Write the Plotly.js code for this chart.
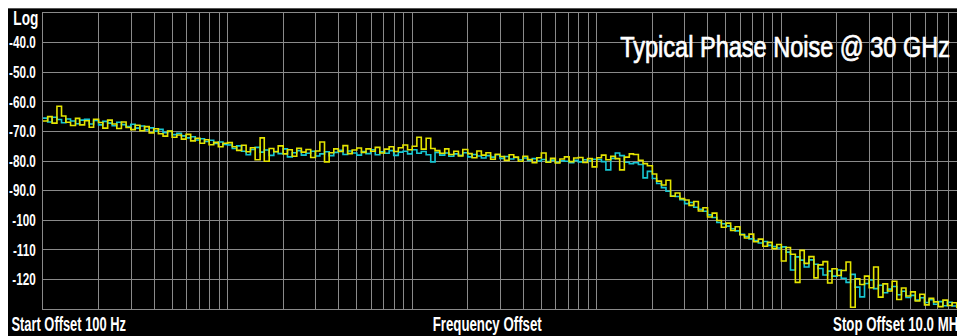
<!DOCTYPE html>
<html>
<head>
<meta charset="utf-8">
<script src="https://cdn.plot.ly/plotly-3.0.1.min.js"></script>
<style>
html,body{margin:0;padding:0;background:#fff;overflow:hidden;width:957px;height:336px;}
#frame{position:absolute;left:8px;top:8px;width:980px;height:328px;background:#000;border-top:1px solid #555;}
#chart{width:980px;height:327px;}
</style>
</head>
<body>
<div id="frame"><div id="chart"></div></div>
<script>
const freqHz = [
100,106,112,119,126,133,141,150,158,168,178,188,200,211,224,237,251,266,282,299,316,335,355,376,398,422,447,473,501,531,562,596,631,668,708,750,794,841,891,944,
1000,1060,1120,1190,1260,1330,1410,1500,1580,1680,1780,1880,2000,2110,2240,2370,2510,2660,2820,2990,3160,3350,3550,3760,3980,4220,4470,4730,5010,5310,5620,5960,6310,6680,7080,7500,7940,8410,8910,9440,
10000,10600,11200,11900,12600,13300,14100,15000,15800,16800,17800,18800,20000,21100,22400,23700,25100,26600,28200,29900,31600,33500,35500,37600,39800,42200,44700,47300,50100,53100,56200,59600,63100,66800,70800,75000,79400,84100,89100,94400,
100000,106000,112000,119000,126000,133000,141000,150000,158000,168000,178000,188000,200000,211000,224000,237000,251000,266000,282000,299000,316000,335000,355000,376000,398000,422000,447000,473000,501000,531000,562000,596000,631000,668000,708000,750000,794000,841000,891000,944000,
1000000,1060000,1120000,1190000,1260000,1330000,1410000,1500000,1580000,1680000,1780000,1880000,2000000,2110000,2240000,2370000,2510000,2660000,2820000,2990000,3160000,3350000,3550000,3760000,3980000,4220000,4470000,4730000,5010000,5310000,5620000,5960000,6310000,6680000,7080000,7500000,7940000,8410000,8910000,9440000,
10000000
];

const cyanTrace = [
-65.5,-66.8,-65.2,-66.0,-67.1,-65.8,-66.5,-67.4,-66.2,-65.9,
-67.5,-66.3,-67.8,-66.6,-67.2,-68.1,-66.9,-67.7,-68.4,-67.6,
-68.9,-68.2,-69.5,-68.8,-69.9,-69.3,-70.4,-70.0,-71.1,-70.6,
-71.5,-72.2,-71.8,-72.9,-72.5,-73.4,-73.0,-74.1,-73.6,-74.4,
-74.6,-75.8,-74.9,-76.7,-77.9,-76.1,-75.4,-77.0,-76.3,-78.1,
-76.8,-77.5,-75.9,-78.6,-77.2,-76.5,-78.0,-77.4,-76.7,-78.3,
-77.6,-76.9,-78.2,-77.1,-76.4,-77.8,-76.6,-77.3,-78.0,-76.8,
-77.5,-76.2,-77.9,-76.9,-77.4,-76.5,-78.1,-77.0,-76.7,-77.6,
-76.2,-77.4,-76.8,-77.9,-80.3,-77.1,-78.0,-77.3,-78.4,-77.6,
-78.1,-77.2,-78.6,-77.8,-78.3,-79.0,-78.2,-78.7,-77.9,-79.1,
-78.5,-79.3,-78.8,-79.6,-79.0,-79.8,-79.2,-80.0,-79.5,-80.2,
-79.7,-80.4,-79.9,-80.1,-80.6,-79.8,-80.3,-79.6,-80.0,-79.4,
-79.5,-80.2,-83.0,-79.1,-77.3,-78.2,-80.4,-80.9,-80.6,-81.2,
-85.7,-83.5,-85.9,-87.6,-89.0,-90.2,-91.8,-92.0,-93.1,-94.4,
-94.0,-95.6,-96.3,-97.0,-98.2,-99.1,-100.8,-101.2,-102.0,-102.9,
-103.6,-104.8,-105.5,-106.3,-106.9,-107.7,-107.2,-108.5,-108.9,-109.4,
-109.0,-110.8,-116.8,-112.4,-113.5,-115.8,-113.4,-114.9,-116.3,-118.5,
-117.2,-118.9,-116.8,-119.6,-121.0,-118.3,-122.6,-125.9,-121.4,-120.2,
-123.1,-122.0,-124.5,-123.3,-122.4,-125.2,-124.0,-126.1,-125.4,-127.0,
-126.2,-127.8,-126.9,-128.4,-127.5,-128.9,-127.7,-129.0,-128.3,-129.4,
-128.7
];

const yellowTrace = [
-66.5,-65.0,-67.2,-61.5,-64.8,-66.9,-68.0,-65.6,-67.8,-66.4,
-68.6,-65.9,-67.0,-68.9,-66.2,-67.5,-69.0,-66.8,-68.7,-69.4,
-67.9,-69.8,-68.4,-70.5,-69.1,-70.8,-71.6,-69.9,-72.0,-71.2,
-72.6,-71.0,-73.2,-72.3,-74.0,-72.8,-74.5,-73.7,-75.2,-74.0,
-73.8,-75.2,-76.4,-74.7,-76.9,-75.5,-79.6,-72.2,-80.1,-75.8,
-76.9,-74.9,-77.6,-76.2,-78.4,-75.7,-77.0,-76.1,-78.8,-76.6,
-73.6,-80.3,-77.2,-75.9,-76.8,-74.8,-77.5,-76.3,-75.6,-77.1,
-75.9,-76.7,-75.4,-77.3,-76.0,-75.2,-76.8,-75.5,-74.6,-76.2,
-75.0,-72.0,-76.0,-72.3,-75.8,-76.5,-77.4,-75.9,-77.8,-76.7,
-78.3,-76.1,-77.5,-78.9,-76.6,-78.0,-77.2,-79.4,-77.7,-78.5,
-79.8,-77.9,-78.7,-80.1,-78.4,-79.5,-80.6,-78.9,-77.3,-80.4,
-79.1,-80.7,-79.3,-78.6,-80.2,-79.0,-78.8,-80.5,-79.2,-82.0,
-78.9,-78.0,-79.6,-78.4,-79.2,-83.0,-78.7,-77.6,-77.8,-79.8,
-80.9,-81.6,-84.4,-86.8,-88.1,-86.5,-91.9,-90.8,-92.7,-93.2,
-95.0,-93.7,-96.9,-95.8,-98.9,-97.6,-100.1,-102.4,-101.0,-103.5,
-102.2,-104.9,-106.0,-104.7,-107.3,-106.4,-108.8,-107.5,-109.6,-108.2,
-113.8,-109.2,-111.5,-121.0,-110.2,-114.6,-112.3,-119.5,-115.1,-114.0,
-121.2,-116.4,-118.7,-117.0,-114.1,-129.4,-119.8,-121.7,-118.9,-122.8,
-115.8,-126.0,-121.5,-123.9,-120.6,-126.8,-122.9,-125.6,-124.2,-127.3,
-125.0,-128.6,-126.4,-127.6,-129.2,-127.0,-128.8,-127.9,-129.5,-128.1,
-129.0
];

const yTickValues = [-40,-50,-60,-70,-80,-90,-100,-110,-120];
const yTickLabels = ['-40.0','-50.0','-60.0','-70.0','-80.0','-90.0','-100','-110','-120'];

const chartTitle = 'Typical Phase Noise @ 30 GHz';
const scaleLabel = 'Log';
const startLabel = 'Start Offset 100 Hz';
const centerLabel = 'Frequency Offset';
const stopLabel = 'Stop Offset 10.0 MHz';

const fam = 'Liberation Sans, Arial, sans-serif';
const gridCol = '#8a8a8a';

const traces = [
  {x: freqHz, y: cyanTrace, type: 'scatter', mode: 'lines', line: {color: '#17c6d3', width: 1.6, shape: 'hv'}, hoverinfo: 'skip'},
  {x: freqHz, y: yellowTrace, type: 'scatter', mode: 'lines', line: {color: '#e4e400', width: 1.6, shape: 'hv'}, hoverinfo: 'skip'}
];

// plot area left edge is at page x = 43, top at page y = 13, bottom at page y = 309
const layout = {
  width: 980, height: 327,
  margin: {l: 35, r: 22, t: 4, b: 27, pad: 0},
  paper_bgcolor: '#000', plot_bgcolor: '#000',
  showlegend: false,
  hovermode: false,
  xaxis: {
    type: 'log', range: [2, 7], dtick: 'D1',
    showticklabels: false, ticks: '',
    showgrid: true, gridcolor: gridCol, gridwidth: 1,
    showline: true, mirror: true, linecolor: gridCol, linewidth: 1,
    zeroline: false
  },
  yaxis: {
    range: [-130, -30],
    tickmode: 'array', tickvals: yTickValues, ticktext: yTickLabels,
    tickfont: {family: fam, size: 16.3, color: '#fff', weight: 'bold'},
    ticks: '', ticklabelstandoff: 3,
    showgrid: true, gridcolor: gridCol, gridwidth: 1,
    showline: true, mirror: true, linecolor: gridCol, linewidth: 1,
    zeroline: false
  },
  annotations: [
    {text: scaleLabel, xref: 'paper', yref: 'paper', x: 0, y: 1, xanchor: 'center', yanchor: 'middle', xshift: -17.5, yshift: -5.2, showarrow: false,
     font: {family: fam, size: 19.5, color: '#fff', weight: 'bold'}},
    {text: chartTitle, xref: 'paper', yref: 'paper', x: 0, y: 1, xanchor: 'center', yanchor: 'middle', xshift: 741.5, yshift: -33.7, showarrow: false,
     font: {family: fam, size: 28.7, color: '#fff'}},
    {text: startLabel, xref: 'paper', yref: 'paper', x: 0, y: 0, xanchor: 'center', yanchor: 'middle', xshift: 25.5, yshift: -14.7, showarrow: false,
     font: {family: fam, size: 19.5, color: '#fff', weight: 'bold'}},
    {text: centerLabel, xref: 'paper', yref: 'paper', x: 0, y: 0, xanchor: 'center', yanchor: 'middle', xshift: 444.5, yshift: -14.7, showarrow: false,
     font: {family: fam, size: 19.5, color: '#fff', weight: 'bold'}},
    {text: stopLabel, xref: 'paper', yref: 'paper', x: 0, y: 0, xanchor: 'center', yanchor: 'middle', xshift: 856, yshift: -14.7, showarrow: false,
     font: {family: fam, size: 19.5, color: '#fff', weight: 'bold'}}
  ]
};

// horizontal condensing of the narrow display font, applied to real SVG text
const squeeze = [0.70, 0.82, 0.66, 0.68, 0.68];
const tickSqueeze = 0.72;

function condense(el, f) {
  const w = el.getComputedTextLength();
  if (w > 0) {
    el.setAttribute('textLength', (w * f).toFixed(2));
    el.setAttribute('lengthAdjust', 'spacingAndGlyphs');
  }
}

Plotly.newPlot('chart', traces, layout, {staticPlot: true, displayModeBar: false}).then(function (gd) {
  gd.querySelectorAll('.ytick text').forEach(function (t) { condense(t, tickSqueeze); });
  gd.querySelectorAll('.annotation').forEach(function (a) {
    const i = +a.getAttribute('data-index');
    const t = a.querySelector('text');
    if (t) {
      condense(t, squeeze[i]);
      if (i === 1) {
        t.style.stroke = '#fff';
        t.style.strokeWidth = '0.7px';
      }
    }
  });
});
</script>
</body>
</html>
